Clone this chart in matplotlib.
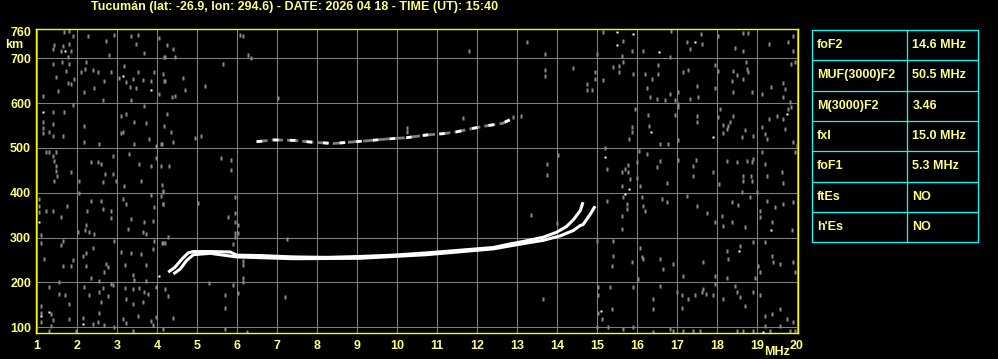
import matplotlib
matplotlib.use("Agg")
import matplotlib.pyplot as plt

plt.rcParams['font.family'] = ['Liberation Sans', 'DejaVu Sans']

# Ionogram data (frequency in MHz, virtual height in km)
title = "Tucumán (lat: -26.9, lon: 294.6) - DATE: 2026 04 18 - TIME (UT): 15:40"

freq_ticks = list(range(1, 21))
height_ticks = [100, 200, 300, 400, 500, 600, 700, 760]
grid_heights = [100, 200, 300, 400, 500, 600, 700]

# F2 ordinary trace
o_freq = [4.28, 4.45, 4.62, 4.78, 4.91, 5.33, 5.83, 5.99, 6.58, 7.41, 8.24, 9.08, 9.91,
          10.74, 11.58, 12.41, 12.83, 13.24, 13.66, 13.99, 14.24, 14.41, 14.58, 14.65]
o_height = [223, 234, 252, 266, 269, 269, 268, 261, 260, 257, 256, 258, 261,
            266, 272, 278, 286, 293, 301, 312, 325, 340, 360, 379]

# F2 extraordinary trace
x_freq = [4.41, 4.58, 4.74, 4.91, 5.33, 5.99, 7.41, 9.08, 10.74, 12.41, 13.24, 13.66,
          14.08, 14.41, 14.58, 14.65, 14.83, 14.95]
x_height = [219, 230, 249, 262, 265, 257, 253, 254, 262, 275, 288, 294,
            304, 316, 327, 329, 352, 370]

# second hop echo
hop2_freq = [6.49, 6.91, 7.41, 7.87, 8.41, 8.83, 9.24, 9.74, 10.24, 10.74, 11.16, 11.49,
             11.91, 12.28, 12.64, 12.89]
hop2_height = [514, 518, 517, 513, 510, 513, 516, 520, 523, 529, 532, 536,
               544, 550, 555, 566]

# background noise (grey)
noise_freq = [
    1.68, 1.81, 1.89, 2.27, 2.93, 3.35, 3.52, 4.04, 1.79, 1.64, 1.43, 1.39, 1.60, 1.85, 2.73,
    3.48, 3.68, 2.79, 1.77, 4.18, 1.39, 1.62, 1.81, 2.23, 2.10, 2.21, 2.39, 2.52, 2.85, 3.18,
    3.52, 3.93, 1.48, 1.73, 1.93, 1.77, 1.85, 2.18, 2.43, 2.68, 3.06, 3.23, 3.39, 3.64, 3.85,
    3.33, 3.48, 4.06, 1.14, 1.52, 2.64, 3.35, 4.18, 1.89, 1.39, 1.68, 1.14, 1.39, 1.14, 1.14,
    1.31, 1.39, 1.64, 2.18, 3.10, 3.23, 3.43, 3.68, 3.73, 3.81, 3.98, 3.10, 3.14, 3.43, 2.56,
    2.18, 4.10, 4.18, 1.23, 1.31, 1.48, 1.39, 1.43, 1.48, 1.48, 1.49, 1.43, 1.85, 2.35, 2.52,
    2.60, 2.89, 2.71, 2.89, 2.64, 2.98, 2.04, 3.29, 3.56, 3.85, 3.98, 3.60, 3.18, 4.10, 4.14,
    1.04, 1.04, 1.04, 1.23, 1.39, 1.60, 1.74, 2.04, 2.35, 2.60, 2.64, 2.85, 2.85, 3.14, 3.23,
    3.35, 3.27, 3.68, 3.64, 3.73, 3.85, 3.93, 3.89, 4.10, 4.14, 2.24, 2.23, 2.21, 2.31, 2.43,
    2.02, 1.10, 1.10, 1.64, 1.60, 2.39, 2.23, 2.14, 1.18, 1.89, 1.64, 1.85, 2.23, 2.73, 2.77,
    2.68, 2.93, 3.10, 3.35, 3.60, 3.89, 3.93, 4.14, 3.21, 3.73, 3.39, 2.35, 2.56, 2.85, 2.89,
    3.43, 3.73, 1.31, 1.56, 1.56, 1.71, 1.81, 2.18, 2.31, 2.56, 2.64, 2.77, 2.60, 3.21, 3.39,
    3.56, 3.68, 3.23, 3.39, 3.64, 3.77, 3.98, 1.10, 1.10, 1.35, 1.10, 1.35, 1.39, 1.81, 2.14,
    2.39, 2.52, 2.68, 2.56, 2.93, 3.14, 3.23, 3.52, 3.85, 3.89, 3.98, 3.39, 1.31, 1.98,
    15.14, 15.64, 15.87, 15.62, 16.16, 16.84, 17.24, 17.59, 17.62, 18.03, 18.45, 18.66, 18.78,
    18.64, 19.31, 19.78, 19.91, 19.91, 14.99, 16.83, 17.33, 14.95, 14.95, 14.74, 14.74, 14.87,
    15.16, 15.41, 15.56, 15.56, 15.64, 15.91, 16.20, 16.37, 16.24, 16.33, 16.49, 16.53, 16.53,
    16.70, 16.83, 17.03, 16.95, 17.16, 17.28, 17.49, 17.33, 17.53, 17.95, 17.95, 18.03, 18.41,
    18.37, 18.49, 18.72, 18.74, 18.78, 18.64, 18.41, 18.87, 19.12, 19.35, 19.66, 19.70, 19.64,
    19.84, 19.95, 19.83, 15.95, 15.87, 15.87, 15.81, 16.28, 16.31, 16.58, 16.78, 16.95, 17.03,
    17.03, 17.03, 17.49, 17.49, 18.03, 18.08, 18.16, 18.28, 18.33, 18.24, 18.14, 18.41, 18.70,
    18.91, 18.62, 19.12, 19.20, 19.24, 19.31, 19.49, 19.66, 19.70, 19.78, 19.84, 19.91, 15.20,
    15.24, 15.62, 15.70, 15.78, 15.78, 15.83, 15.62, 15.99, 15.99, 16.08, 16.06, 16.24, 16.49,
    16.58, 16.74, 17.03, 17.41, 17.41, 17.48, 17.91, 18.06, 18.24, 18.49, 18.66, 18.66, 18.74,
    18.84, 18.87, 18.87, 18.91, 19.20, 19.12, 19.24, 19.62, 19.66, 19.99, 19.95, 15.24, 15.66,
    15.74, 15.74, 15.62, 15.62, 16.12, 16.16, 16.20, 16.62, 16.74, 17.24, 17.49, 17.74, 17.95,
    18.12, 18.16, 18.37, 18.37, 18.53, 18.62, 18.70, 18.83, 19.08, 19.08, 19.24, 19.37, 19.66,
    19.87, 19.91, 18.99, 19.45, 14.99, 15.41, 15.41, 15.37, 15.87, 16.08, 16.12, 16.16, 16.03,
    16.58, 16.66, 16.91, 17.14, 17.66, 17.95, 18.24, 18.24, 18.28, 18.58, 18.91, 19.20, 19.37,
    19.39, 19.58, 19.03, 19.08, 19.91, 19.95, 18.95, 15.03, 15.03, 15.03, 15.12, 15.33, 15.37,
    15.91, 16.41, 16.41, 16.58, 16.99, 17.12, 17.12, 17.28, 17.45, 17.62, 17.66, 17.73, 17.91,
    17.95, 18.16, 18.45, 18.49, 18.58, 18.70, 18.91, 19.08, 19.20, 19.37, 19.58, 19.74, 19.91,
    19.58, 19.20, 14.99, 15.28, 15.66, 15.91, 16.83, 16.91, 17.16, 17.41, 17.58, 16.41, 18.49,
    18.66, 18.91, 19.33, 19.83, 19.95,
    4.24, 4.41, 4.45, 4.20, 6.08, 6.16, 6.28, 6.34, 5.64, 4.16, 4.20, 4.64, 4.70, 5.20, 4.37,
    4.45, 7.03, 4.24, 4.34, 4.39, 4.95, 5.09, 4.12, 4.31, 5.59, 5.84, 5.84, 4.12, 4.14, 4.14,
    5.03, 5.95, 5.95, 5.95, 5.78, 6.03, 5.95, 6.03, 5.95, 4.28, 4.12, 4.20, 7.24, 5.89, 6.14,
    6.14, 6.14, 6.14, 5.31, 5.91, 6.03, 5.70, 4.20, 4.28, 7.20, 5.70, 4.41, 5.70, 6.24, 4.16,
    11.81, 13.24, 13.70, 13.70, 13.70, 14.41, 12.91, 13.09, 11.64, 10.24, 10.24, 14.03, 13.74,
    13.74, 13.34, 13.99, 13.64]
noise_height = [
    758, 762, 749, 749, 752, 749, 752, 745, 732, 728, 730, 721, 717, 717, 739,
    732, 712, 707, 704, 702, 687, 691, 687, 691, 669, 676, 675, 670, 669, 682,
    669, 670, 658, 672, 654, 646, 643, 624, 633, 650, 655, 648, 654, 652, 650,
    635, 633, 620, 617, 626, 606, 608, 650, 596, 581, 581, 557, 553, 544, 533,
    535, 527, 526, 550, 572, 576, 557, 594, 556, 521, 504, 533, 536, 509, 509,
    514, 509, 550, 492, 492, 492, 483, 472, 460, 449, 438, 427, 447, 469, 468,
    464, 483, 442, 442, 425, 427, 427, 487, 464, 460, 477, 427, 416, 460, 402,
    386, 371, 358, 360, 360, 347, 371, 400, 382, 382, 365, 360, 343, 386, 375,
    342, 319, 336, 312, 308, 395, 368, 338, 394, 375, 360, 328, 316, 312, 308,
    313, 306, 288, 293, 284, 278, 266, 260, 252, 251, 236, 236, 236, 241, 234,
    223, 293, 267, 266, 263, 275, 293, 288, 239, 240, 217, 209, 204, 197, 194,
    206, 204, 191, 202, 174, 171, 152, 189, 171, 178, 187, 169, 156, 187, 185,
    187, 179, 163, 152, 156, 174, 191, 148, 133, 130, 111, 104, 117, 118, 120,
    107, 111, 105, 133, 100, 118, 110, 126, 115, 105, 124, 92, 92, 92,
    759, 739, 717, 706, 717, 762, 737, 754, 732, 749, 724, 756, 756,
    717, 732, 736, 749, 717, 710, 704, 721, 669, 654, 643, 630, 630,
    652, 680, 682, 669, 691, 665, 665, 654, 633, 613, 609, 684, 665,
    608, 620, 624, 606, 670, 675, 639, 609, 613, 684, 633, 672, 672,
    650, 663, 691, 676, 669, 654, 624, 624, 620, 635, 646, 631, 613,
    687, 691, 602, 587, 546, 535, 521, 574, 550, 509, 509, 574, 598,
    591, 518, 571, 559, 568, 587, 551, 550, 557, 542, 533, 571, 539,
    527, 524, 546, 531, 520, 565, 571, 565, 542, 587, 591, 513, 501,
    453, 446, 453, 462, 446, 431, 416, 434, 468, 416, 494, 487, 457,
    472, 423, 474, 460, 438, 474, 447, 420, 472, 468, 438, 427, 472,
    438, 427, 468, 475, 464, 490, 438, 446, 423, 505, 490, 382, 390,
    375, 364, 349, 319, 390, 371, 360, 386, 379, 394, 371, 356, 334,
    349, 327, 334, 379, 373, 401, 323, 390, 360, 345, 382, 334, 375,
    316, 379, 401, 368, 293, 293, 260, 236, 245, 278, 256, 252, 208,
    252, 230, 241, 214, 245, 215, 209, 271, 252, 281, 291, 290, 260,
    245, 241, 237, 223, 245, 223, 211, 189, 171, 133, 118, 189, 141,
    189, 163, 141, 193, 178, 171, 144, 163, 171, 178, 185, 174, 171,
    197, 163, 193, 178, 167, 148, 178, 171, 126, 130, 141, 118, 111,
    104, 104, 100, 100, 96, 100, 96, 92, 92, 92, 92, 90, 92,
    92, 92, 92, 92, 92,
    730, 721, 702, 702, 752, 749, 707, 700, 687, 665, 650, 655, 630, 639, 613,
    617, 611, 576, 536, 513, 523, 527, 509, 460, 478, 474, 452, 417, 403, 374,
    377, 391, 355, 336, 345, 328, 310, 310, 301, 301, 288, 288, 297, 286, 249,
    239, 209, 200, 199, 194, 176, 172, 185, 169, 168, 144, 121, 96, 90, 96,
    717, 737, 710, 675, 661, 678, 568, 571, 567, 545, 536, 484, 464,
    440, 351, 333, 163]

# brighter isolated echoes (white)
bright_freq = [1.71, 3.14, 3.85, 1.14, 1.06, 4.06, 1.10, 1.31, 2.14,
               15.49, 15.89, 15.49, 16.56, 17.45, 16.34, 17.89, 19.74, 15.20, 15.81,
               15.70, 19.34, 18.54, 15.09, 19.14]
bright_height = [717, 661, 629, 581, 334, 214, 126, 135, 107,
                 758, 754, 730, 713, 736, 536, 524, 576, 479, 408,
                 397, 316, 271, 137, 90]

# scaled parameters table
param_names = ["foF2", "MUF(3000)F2", "M(3000)F2", "fxI", "foF1", "ftEs", "h'Es"]
param_values = ["14.6 MHz", "50.5 MHz", "3.46", "15.0 MHz", "5.3 MHz", "NO", "NO"]

txt_color = '#ffff80'
W, H = 998, 359

fig = plt.figure(figsize=(W / 100, H / 100), dpi=100, facecolor='black')
ax = fig.add_axes([36 / W, 26 / H, 762 / W, 304 / H], facecolor='black')
ax.set_xlim(0.975, 20.025)
ax.set_ylim(87.3, 765.4)

for f in freq_ticks:
    ax.axvline(f, color='#808080', lw=0.75, zorder=1)
for h in grid_heights:
    ax.axhline(h, color='#808080', lw=0.75, zorder=1)

dash = [(-0.3, -1), (0.3, -1), (0.3, 1), (-0.3, 1), (-0.3, -1)]
ax.plot(noise_freq, noise_height, ls='none', marker=dash, ms=2.8,
        mfc='#8a8a8a', mec='none', zorder=2)
ax.plot(bright_freq, bright_height, ls='none', marker='s', ms=1.8,
        mfc='white', mec='none', zorder=3)

# second hop: broken grey/white echo
ax.plot(hop2_freq, hop2_height, color='#808080', lw=2.0, dashes=(4, 1.5), zorder=3)
ax.plot(hop2_freq, hop2_height, color='white', lw=2.0, dashes=(2, 4), zorder=4)

ax.plot(o_freq, o_height, color='white', lw=2.2, solid_capstyle='butt', zorder=5)
ax.plot(x_freq, x_height, color='white', lw=2.2, solid_capstyle='butt', zorder=5)

for s in ax.spines.values():
    s.set_color('yellow')
    s.set_linewidth(1.0)

ax.set_xticks(freq_ticks)
ax.set_yticks(height_ticks)
ax.tick_params(length=0, colors=txt_color, labelsize=9)
ax.tick_params(axis='x', pad=5)
ax.tick_params(axis='y', pad=3.5)
for lab in ax.get_xticklabels() + ax.get_yticklabels():
    lab.set_fontweight('bold')

fig.text(295 / W, 1 - 7 / H, title, color=txt_color, fontsize=9, fontweight='bold',
         ha='center', va='center')
fig.text(14 / W, 1 - 45 / H, "km", color=txt_color, fontsize=9, fontweight='bold',
         ha='center', va='center')
fig.text(777 / W, 1 - 352 / H, "MHz", color=txt_color, fontsize=9, fontweight='bold',
         ha='center', va='center')

# parameters table
tx0, tx1, ty0, ty1 = 812, 977.5, 30, 242.3
tab = fig.add_axes([tx0 / W, 1 - ty1 / H, (tx1 - tx0) / W, (ty1 - ty0) / H])
tab.set_xlim(0, tx1 - tx0)
tab.set_ylim(len(param_names), 0)
tab.axis('off')
cyan = '#00ffff'
for i in range(len(param_names) + 1):
    tab.plot([0, tx1 - tx0], [i, i], color=cyan, lw=0.9, clip_on=False)
for xv in [0, 907.3 - tx0, tx1 - tx0]:
    tab.plot([xv, xv], [0, len(param_names)], color=cyan, lw=0.9, clip_on=False)
for i, (n, v) in enumerate(zip(param_names, param_values)):
    tab.text(5, i + 0.5, n, color=txt_color, fontsize=9, fontweight='bold', va='center')
    tab.text(907.3 - tx0 + 5, i + 0.5, v, color=txt_color, fontsize=9, fontweight='bold',
             va='center')

fig.savefig('out.png', dpi=100, facecolor='black')
